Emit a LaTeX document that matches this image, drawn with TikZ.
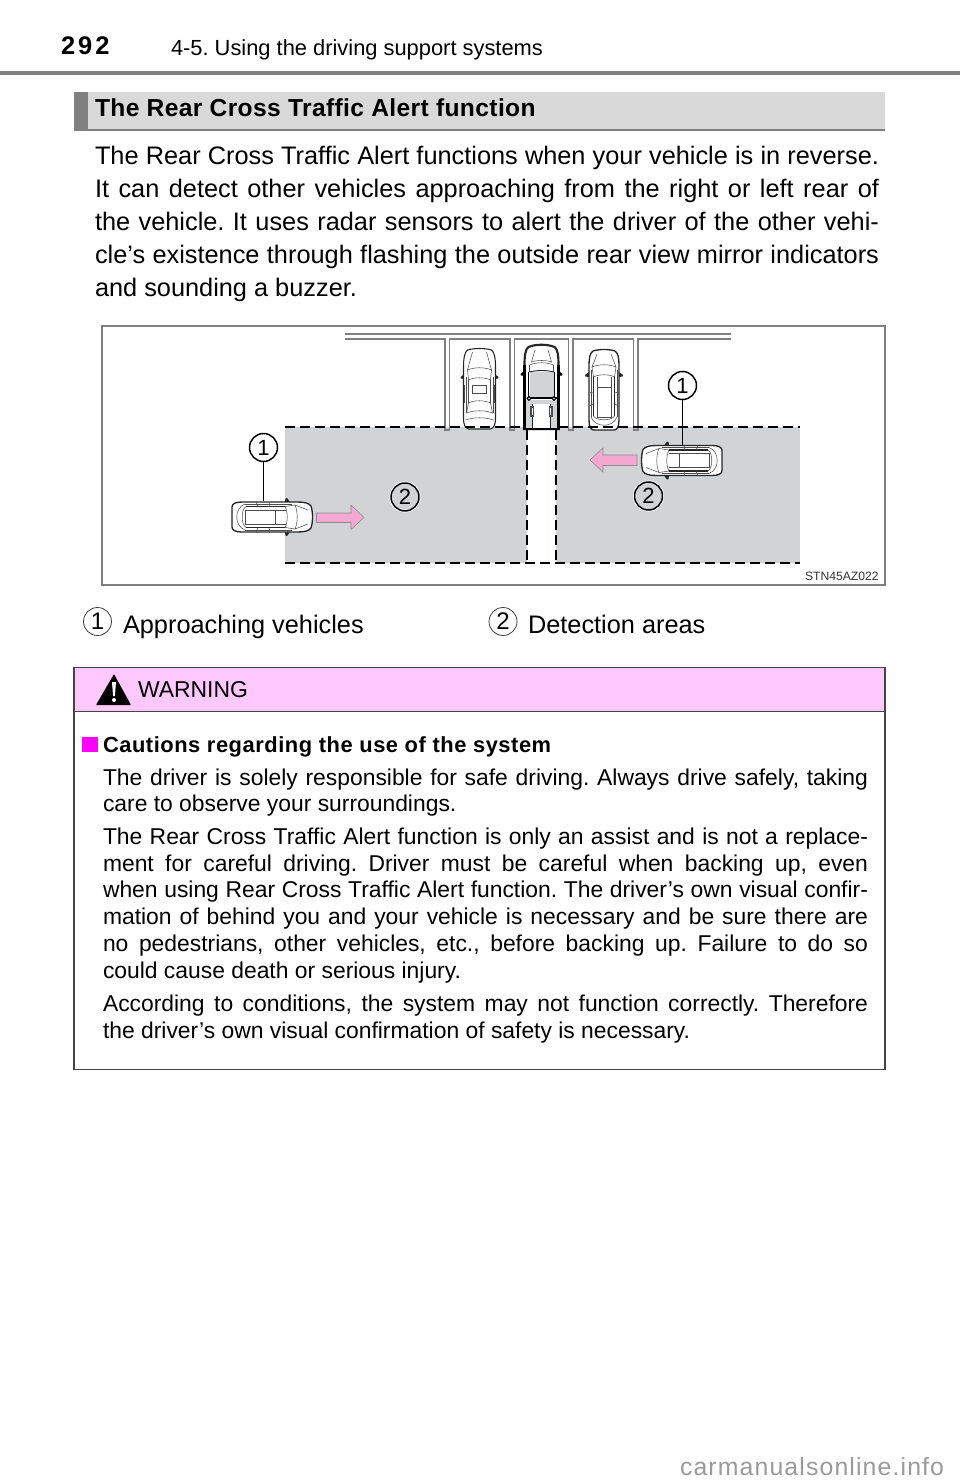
\documentclass[tikz,border=0pt]{standalone}
\usepackage{fontspec}
\setmainfont{Liberation Sans}
\newfontfamily\lsp[LetterSpace=12]{Liberation Sans}
\newfontfamily\lspb[LetterSpace=1.5]{Liberation Sans}
\newfontfamily\lspc[LetterSpace=2.5]{Liberation Sans}
\newfontfamily\lspw[LetterSpace=4.6]{Liberation Sans}
\definecolor{ruleg}{HTML}{808080}
\definecolor{barg}{HTML}{D9D9D9}
\definecolor{areag}{HTML}{D1D3D4}
\definecolor{warnp}{HTML}{FFC8FF}
\definecolor{arrowp}{HTML}{F5A8D2}
\definecolor{boxk}{HTML}{444444}
\definecolor{wmk}{HTML}{9A9A9A}
\definecolor{sqm}{HTML}{FF00FF}
\newcommand{\fbody}{\fontsize{19.0}{20}\selectfont}
\newcommand{\fwarn}{\fontsize{17.15}{18}\selectfont}
\tikzset{
  x=0.75pt,y=-0.75pt,
  tl/.style={anchor=base west,inner sep=0pt,outer sep=0pt},
  bodyline/.style={tl,font=\fbody},
  warnline/.style={tl,font=\fwarn},
  badge/.style={circle,draw=black,line width=1.1pt,minimum size=28*0.75pt,inner sep=0pt,font=\fontsize{16.5}{16}\selectfont},
  legendbadge/.style={circle,draw=black!75,line width=0.6pt,minimum size=28*0.75pt,inner sep=0pt,font=\fontsize{18}{18}\selectfont},
  dashline/.style={line width=1.5pt,dash pattern=on 7.5pt off 3.75pt,black},
  stall/.style={draw=ruleg,line width=0.8pt},
  carline/.style={draw=black!70,line width=0.4pt},
  carbody/.style={draw=black!85,line width=0.8pt,fill=white},
  mirror/.style={fill=black!85},
  pinkarrow/.style={fill=arrowp,draw=black!45,line width=0.4pt},
  sedan/.pic={
    \fill[mirror] (-15,-15) -- (-19,-12) -- (-18.5,-10.5) -- (-15,-10) -- cycle (15,-15) -- (19,-12) -- (18.5,-10.5) -- (15,-10) -- cycle;
    \draw[carbody] (-12,-39) .. controls (-5,-41) and (5,-41) .. (12,-39) .. controls (15,-37) and (16,-30) .. (16,-22) -- (16,30) .. controls (16,36) and (14,39) .. (11,40) -- (-11,40) .. controls (-14,39) and (-16,36) .. (-16,30) -- (-16,-22) .. controls (-16,-30) and (-15,-37) .. (-12,-39) -- cycle;
    \draw[carline] (-7,-37) -- (-12,-19) .. controls (-5,-22) and (5,-22) .. (12,-19) -- (7,-37);
    \draw[carline] (-12,-19) -- (-11,-9) .. controls (-5,-12) and (5,-12) .. (11,-9) -- (12,-19);
    \draw[carline] (-11,-9) -- (-11,14) .. controls (-5,11) and (5,11) .. (11,14) -- (11,-9);
    \draw[carline] (-7,-4) rectangle (7,4);
    \draw[carline] (-11,14) -- (-13,24) .. controls (-5,21) and (5,21) .. (13,24) -- (11,14);
    \draw[carline] (-14,31) .. controls (-5,28) and (5,28) .. (14,31);
    \draw[carline] (-13.5,-12) -- (-13.5,24) (13.5,-12) -- (13.5,24);
    \draw[black!70,line width=0.7pt] (-15,-4) -- (-15,14) (15,-4) -- (15,14);
  },
  suv/.pic={
    \fill[mirror] (-15,-18) -- (-19,-15) -- (-18.5,-13.5) -- (-15,-13) -- cycle (15,-18) -- (19,-15) -- (18.5,-13.5) -- (15,-13) -- cycle;
    \draw[carbody,line width=1pt] (-11,-39) .. controls (-5,-41) and (5,-41) .. (11,-39) .. controls (14,-37) and (15,-32) .. (15,-25) -- (15,30) .. controls (15,37) and (13,40) .. (10,40) -- (-10,40) .. controls (-13,40) and (-15,37) .. (-15,30) -- (-15,-25) .. controls (-15,-32) and (-14,-37) .. (-11,-39) -- cycle;
    \draw[carline] (-7,-36) -- (-12,-23) .. controls (-5,-26) and (5,-26) .. (12,-23) -- (7,-36);
    \draw[carline] (-12,-23) -- (-10.5,-13) .. controls (-5,-16) and (5,-16) .. (10.5,-13) -- (12,-23);
    \draw[carline] (-7,-13.5) -- (-7,27) -- (7,27) -- (7,-13.5);
    \draw[carline] (-7,-3) -- (7,-3);
    \draw[black!85,line width=0.9pt] (-10.5,-13) -- (-10.5,26) (10.5,-13) -- (10.5,26);
    \draw[carline] (-10.5,26) .. controls (-8,31) and (8,31) .. (10.5,26);
    \draw[carline] (-13,27) .. controls (-9,38) and (9,38) .. (13,27);
    \draw[carline] (-13,-20) -- (-13,27) (13,-20) -- (13,27);
    \draw[carline] (-15,2) -- (-10.5,3) (15,2) -- (10.5,3) (-15,16) -- (-10.5,14) (15,16) -- (10.5,14);
  },
  pickup/.pic={
    \fill[black] (-16,-17) -- (-21,-13) -- (-20.5,-11.5) -- (-16,-11) -- cycle (16,-17) -- (21,-13) -- (20.5,-11.5) -- (16,-11) -- cycle;
    \draw[carbody,line width=1.6pt] (-13,-40) .. controls (-6,-43) and (6,-43) .. (13,-40) .. controls (16,-38) and (17,-32) .. (17,-22) -- (17,42) -- (-17,42) -- (-17,-22) .. controls (-17,-32) and (-16,-38) .. (-13,-40) -- cycle;
    \fill[areag] (-12,-15) rectangle (12,11);
    \fill[areag] (-16,13) rectangle (16,41);
    \fill[white] (-9,17) rectangle (9,41);
    \draw[carline] (-6.5,-37) -- (-10,-25) .. controls (-5,-27) and (5,-27) .. (10,-25) -- (6.5,-37);
    \draw[carline] (-12,-22) .. controls (-5,-25) and (5,-25) .. (12,-22);
    \draw[carline] (-12,-22) -- (-12,-15) (12,-22) -- (12,-15);
    \draw[black!85,line width=0.7pt] (-12,-15) .. controls (-5,-17) and (5,-17) .. (12,-15);
    \draw[black,line width=1.1pt] (-13,-15) -- (-13,11) (13,-15) -- (13,11);
    \draw[black,line width=1.2pt] (-15,11) -- (15,11);
    \draw[black,line width=0.8pt,fill=white] (-12.5,11.5) circle (1.8) (12.5,11.5) circle (1.8);
    \draw[black!85,line width=0.7pt] (-9,17) -- (-9,41) (9,17) -- (9,41);
    \draw[black!70,line width=0.8pt,fill=white] (-10.5,20) rectangle (-8,29) (8,20) rectangle (10.5,29);
    \draw[black,line width=1.6pt] (-17,-22) -- (-17,42) -- (17,42) -- (17,-22);
  },
}
\begin{document}
\frenchspacing
\begin{tikzpicture}
\useasboundingbox (0,0) rectangle (960,1484);
\fill[white] (0,0) rectangle (960,1484);

% page header
\node (pagenum) [tl,font=\lsp\bfseries\fontsize{19.1}{20}\selectfont] at (61,55) {292};
\node (chapter) [tl,font=\fontsize{16.4}{18}\selectfont] at (171,56) {4-5. Using the driving support systems};
\fill[ruleg] (0,71) rectangle (960,75);

% section bar
\fill[barg] (74,92) rectangle (885,131);
\fill[ruleg] (74,129) rectangle (885,131.5);
\fill[ruleg] (74,92) rectangle (88,131.5);
\node (sectitle) [tl,font=\lspb\bfseries\fontsize{18.45}{20}\selectfont] at (95,117) {The Rear Cross Traffic Alert function};

% intro
\node (b1) [bodyline] at (95,165) {\hbox to 784\dimexpr0.75pt\relax{The Rear Cross Traffic Alert functions when your vehicle is in reverse.}};
\node (b2) [bodyline] at (95,197.5) {\hbox to 784\dimexpr0.75pt\relax{It can detect other vehicles approaching from the right or left rear of}};
\node (b3) [bodyline] at (95,230.5) {\hbox to 784\dimexpr0.75pt\relax{the vehicle. It uses radar sensors to alert the driver of the other vehi-}};
\node (b4) [bodyline] at (95,263) {\hbox to 784\dimexpr0.75pt\relax{cle’s existence through flashing the outside rear view mirror indicators}};
\node (b5) [bodyline] at (95,296) {and sounding a buzzer.};

% figure
\draw[ruleg,line width=1pt] (102,326) rectangle (885,585);
\fill[areag] (285,427) rectangle (527,563);
\fill[areag] (556,427) rectangle (800,563);
\draw[stall] (345,334) -- (731,334);
\draw[stall] (345,339) -- (445,339) -- (445,430) -- (449.5,430) -- (449.5,339) -- (510,339) -- (510,430) -- (514.5,430) -- (514.5,339) -- (568.5,339) -- (568.5,430) -- (573,430) -- (573,339) -- (633.5,339) -- (633.5,430) -- (638,430) -- (638,339) -- (731,339);
\pic at (479.5,389) {sedan};
\pic at (604,390) {suv};
\pic at (541.5,387) {pickup};
\draw[dashline] (285,427) -- (524,427);
\draw[dashline] (558,427) -- (800,427);
\draw[dashline] (285,563) -- (800,563);
\draw[dashline] (527,430) -- (527,563);
\draw[dashline] (556,430) -- (556,563);
\pic[rotate=-90] at (272,517) {suv};
\pic[rotate=90] at (682,460.5) {suv};
\draw[pinkarrow] (316.5,513) -- (351,513) -- (351,505) -- (364,517.5) -- (351,529.5) -- (351,522.5) -- (316.5,522.5) -- cycle;
\draw[pinkarrow] (637,455) -- (603,455) -- (603,448) -- (590,460) -- (603,472) -- (603,465.5) -- (637,465.5) -- cycle;
\node (c1a) [badge,fill=white] at (263.5,447.5) {1};
\coordinate (c1aend) at (263.5,501);
\draw[black,line width=0.8pt] (c1a) -- (c1aend);
\node (c1b) [badge,fill=white] at (682.5,385.5) {1};
\coordinate (c1bend) at (682.5,446);
\draw[black,line width=0.8pt] (c1b) -- (c1bend);
\fill[white] (405,497) circle (15.5) (648.5,496) circle (15.5);
\node (c2a) [badge,fill=areag] at (405,497) {2};
\node (c2b) [badge,fill=areag] at (648.5,496) {2};
\node (code) [tl,text=black!80,font=\fontsize{9.1}{10}\selectfont] at (805,580) {STN45AZ022};

% legend
\node (l1) [legendbadge] at (97.5,621.5) {1};
\node (l1t) [bodyline] at (123,633) {Approaching vehicles};
\node (l2) [legendbadge] at (503,621.5) {2};
\node (l2t) [bodyline] at (528,633) {Detection areas};

% warning box
\fill[warnp] (74,667) rectangle (885,711.5);
\draw[boxk,line width=1pt] (74,711.5) -- (885,711.5);
\draw[boxk,line width=1.1pt] (74,667.5) rectangle (885,1069.5);
\fill[black,rounded corners=0.5pt] (114,674) -- (131,705) -- (96,705) -- cycle;
\fill[white] (112,682) -- (116,682) -- (114.9,696) -- (113.1,696) -- cycle;
\fill[white] (114,700) circle (2);
\node (warnhead) [tl,font=\fontsize{17.2}{18}\selectfont] at (138,697) {WARNING};
\fill[sqm] (82,737) rectangle (98,752);
\node (w0) [tl,font=\lspc\bfseries\fontsize{16.4}{18}\selectfont] at (103,752) {Cautions regarding the use of the system};
\node (w1) [warnline] at (103,785) {\hbox to 765\dimexpr0.75pt\relax{The driver is solely responsible for safe driving. Always drive safely, taking}};
\node (w2) [warnline] at (103,811) {care to observe your surroundings.};
\node (w3) [warnline] at (103,844) {\hbox to 765\dimexpr0.75pt\relax{The Rear Cross Traffic Alert function is only an assist and is not a replace-}};
\node (w4) [warnline] at (103,871) {\hbox to 765\dimexpr0.75pt\relax{ment for careful driving. Driver must be careful when backing up, even}};
\node (w5) [warnline] at (103,897) {\hbox to 765\dimexpr0.75pt\relax{when using Rear Cross Traffic Alert function. The driver’s own visual confir-}};
\node (w6) [warnline] at (103,924) {\hbox to 765\dimexpr0.75pt\relax{mation of behind you and your vehicle is necessary and be sure there are}};
\node (w7) [warnline] at (103,951) {\hbox to 765\dimexpr0.75pt\relax{no pedestrians, other vehicles, etc., before backing up. Failure to do so}};
\node (w8) [warnline] at (103,978) {could cause death or serious injury.};
\node (w9) [warnline] at (103,1011) {\hbox to 765\dimexpr0.75pt\relax{According to conditions, the system may not function correctly. Therefore}};
\node (w10) [warnline] at (103,1038) {the driver’s own visual confirmation of safety is necessary.};

% watermark
\node (wm) [tl,text=wmk,font=\lspw\fontsize{18.6}{20}\selectfont] at (680,1475) {carmanualsonline.info};
\end{tikzpicture}
\end{document}
